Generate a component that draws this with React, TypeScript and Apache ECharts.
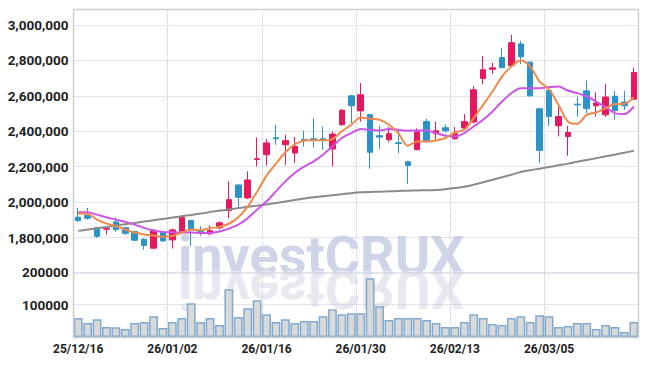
import React, { useEffect, useRef } from "react";
import * as echarts from "echarts";

const dates = [
  "25/12/16", "25/12/17", "25/12/18", "25/12/19", "25/12/22", "25/12/23", "25/12/24", "25/12/26", "25/12/29", "25/12/30",
  "26/01/02", "26/01/05", "26/01/06", "26/01/07", "26/01/08", "26/01/09", "26/01/12", "26/01/13", "26/01/14", "26/01/15",
  "26/01/16", "26/01/19", "26/01/20", "26/01/21", "26/01/22", "26/01/23", "26/01/26", "26/01/27", "26/01/28", "26/01/29",
  "26/01/30", "26/02/02", "26/02/03", "26/02/04", "26/02/05", "26/02/06", "26/02/09", "26/02/10", "26/02/11", "26/02/12",
  "26/02/13", "26/02/19", "26/02/20", "26/02/23", "26/02/24", "26/02/25", "26/02/26", "26/02/27", "26/03/03", "26/03/04",
  "26/03/05", "26/03/06", "26/03/09", "26/03/10", "26/03/11", "26/03/12", "26/03/13", "26/03/16", "26/03/17", "26/03/18",
];

const opens = [
  1915000, 1926000, 1855000, 1847000, 1888000, 1855000, 1834000, 1790000, 1740000, 1828000,
  1787000, 1836000, 1896000, 1834000, 1821000, 1855000, 1952000, 2097000, 2024000, 2241000,
  2268000, 2363000, 2324000, 2277000, 2354000, 2358000, 2358000, 2300000, 2437000, 2600000,
  2515000, 2493000, 2375000, 2352000, 2335000, 2228000, 2296000, 2455000, 2386000, 2420000,
  2358000, 2418000, 2452000, 2698000, 2750000, 2816000, 2771000, 2893000, 2790000, 2527000,
  2630000, 2431000, 2371000, 2553000, 2628000, 2544000, 2493000, 2598000, 2565000, 2581000,
];
const closes = [
  1896000, 1909000, 1807000, 1852000, 1845000, 1824000, 1785000, 1756000, 1841000, 1781000,
  1843000, 1913000, 1845000, 1824000, 1839000, 1883000, 2014000, 2027000, 2125000, 2245000,
  2334000, 2358000, 2347000, 2314000, 2350000, 2348000, 2347000, 2384000, 2519000, 2544000,
  2606000, 2281000, 2367000, 2386000, 2331000, 2207000, 2397000, 2343000, 2403000, 2403000,
  2386000, 2454000, 2634000, 2747000, 2758000, 2759000, 2900000, 2821000, 2600000, 2292000,
  2483000, 2483000, 2393000, 2549000, 2528000, 2559000, 2593000, 2517000, 2544000, 2731000,
];
const lows = [
  1889000, 1901000, 1798000, 1817000, 1832000, 1815000, 1779000, 1732000, 1736000, 1777000,
  1738000, 1832000, 1752000, 1811000, 1813000, 1845000, 1911000, 1962000, 2018000, 2202000,
  2206000, 2324000, 2211000, 2221000, 2314000, 2309000, 2296000, 2202000, 2431000, 2446000,
  2455000, 2189000, 2300000, 2339000, 2277000, 2103000, 2292000, 2337000, 2352000, 2392000,
  2352000, 2408000, 2446000, 2666000, 2724000, 2754000, 2765000, 2780000, 2596000, 2221000,
  2431000, 2371000, 2262000, 2483000, 2502000, 2483000, 2480000, 2466000, 2521000, 2578000,
];
const highs = [
  1967000, 1967000, 1860000, 1860000, 1914000, 1860000, 1839000, 1797000, 1849000, 1836000,
  1852000, 1918000, 1896000, 1864000, 1868000, 1892000, 2117000, 2100000, 2174000, 2365000,
  2356000, 2437000, 2380000, 2367000, 2403000, 2474000, 2427000, 2399000, 2525000, 2603000,
  2672000, 2499000, 2431000, 2424000, 2403000, 2234000, 2416000, 2469000, 2455000, 2437000,
  2424000, 2497000, 2656000, 2825000, 2788000, 2869000, 2944000, 2910000, 2793000, 2531000,
  2643000, 2540000, 2431000, 2596000, 2686000, 2619000, 2666000, 2628000, 2628000, 2759000,
];

const ma5 = [
  1935200, 1933500, 1901400, 1878800, 1864700, 1845000, 1828100, 1816900, 1811200, 1803900,
  1808400, 1827000, 1845000, 1841100, 1852900, 1860800, 1878000, 1915000, 1974600, 2059100,
  2149300, 2216900, 2281100, 2325600, 2346500, 2349300, 2349300, 2356000, 2400000, 2436600,
  2477700, 2470400, 2464800, 2436600, 2389800, 2318300, 2342500, 2342500, 2348100, 2361700,
  2393200, 2408400, 2474300, 2549300, 2624200, 2708700, 2765100, 2798900, 2765100, 2680600,
  2637700, 2549300, 2455200, 2442200, 2492900, 2505900, 2530700, 2553200, 2554900, 2592700,
];
const ma10 = [
  1942500, 1942500, 1929500, 1914300, 1901400, 1888400, 1873200, 1854600, 1839400, 1832100,
  1830000, 1828000, 1829000, 1826000, 1826000, 1833800, 1850700, 1873200, 1909800, 1957700,
  2004500, 2060800, 2117200, 2164500, 2200000, 2229800, 2267600, 2314300, 2361700, 2389800,
  2412400, 2406700, 2404500, 2412400, 2408400, 2402800, 2404500, 2404500, 2389800, 2374600,
  2370700, 2389800, 2427000, 2464800, 2511500, 2567900, 2615200, 2643400, 2643400, 2643400,
  2649000, 2652400, 2629800, 2615200, 2596000, 2567900, 2536300, 2502500, 2496900, 2539700,
];
const ma60 = [
  1837700, 1845000, 1852900, 1860200, 1867600, 1875500, 1882800, 1890100, 1898000, 1905300,
  1912600, 1920500, 1927900, 1935200, 1943600, 1952100, 1958800, 1966200, 1973500, 1980200,
  1987000, 1995500, 2003900, 2012400, 2020800, 2028100, 2033800, 2039400, 2045000, 2050700,
  2055200, 2057400, 2059100, 2060800, 2063100, 2064800, 2065900, 2067000, 2068700, 2073200,
  2080000, 2087300, 2098600, 2112600, 2126700, 2140800, 2154900, 2170100, 2180300, 2188700,
  2198300, 2207900, 2217400, 2228100, 2237700, 2247900, 2259100, 2267600, 2278800, 2290100,
];
const volumes = [
  58100, 42800, 55000, 30600, 30000, 24500, 42800, 45900, 64200, 27500,
  45900, 58100, 104000, 45900, 58100, 36700, 146800, 61200, 88700, 113100,
  70300, 45900, 55000, 42800, 48900, 48900, 64200, 85600, 70300, 73400,
  73400, 180400, 94800, 52000, 58100, 58100, 58100, 52000, 42800, 30600,
  30600, 45900, 70300, 58100, 39800, 36700, 58100, 64200, 45900, 67300,
  64200, 30600, 33600, 42800, 42800, 24500, 36700, 30600, 15300, 45900,
];

const UP = "#e8185f";
const DOWN = "#2b93c8";
const GRIDLINE = "#c6c9dc";
const LABEL_FONT = "Roboto, sans-serif";

export default function App() {
  const ref = useRef<HTMLDivElement>(null);

  useEffect(() => {
    document.body.style.margin = "0";
    const chart = echarts.init(ref.current!, null, { renderer: "svg" });
    const left = 73.5;
    const right = 8.5;

    const splitX = {
      show: true,
      interval: 9,
      lineStyle: { color: GRIDLINE, type: "dotted" as const, width: 1 },
    };

    chart.setOption({
      animation: false,
      backgroundColor: "#ffffff",
      graphic: [
        {
          type: "text",
          z: -10,
          x: 178,
          y: 271,
          silent: true,
          style: {
            text: "investCRUX",
            font: "bold 54px Roboto",
            fill: "#cfd5e9",
            verticalAlign: "bottom",
            y: 11,
          },
        },
        {
          type: "text",
          z: -10,
          x: 178,
          y: 273,
          scaleY: -1,
          silent: true,
          style: {
            text: "investCRUX",
            font: "bold 54px Roboto",
            fill: "#e8e8f0",
            verticalAlign: "bottom",
            y: 11,
          },
        },
        {
          type: "rect",
          z: 50,
          silent: true,
          shape: { x: 73.5, y: 9.5, width: 565, height: 328 },
          style: { fill: "none", stroke: "#d0d0d0", lineWidth: 1.5 },
        },
      ],
      grid: [
        { left, right, top: 9, height: 264, containLabel: false, outerBoundsMode: "none" },
        { left, right, top: 272, height: 65, containLabel: false, outerBoundsMode: "none" },
      ],
      xAxis: [
        {
          type: "category",
          gridIndex: 0,
          data: dates,
          boundaryGap: true,
          axisLine: { show: false },
          axisTick: { show: false },
          axisLabel: { show: false },
          splitLine: splitX,
        },
        {
          type: "category",
          gridIndex: 1,
          data: dates,
          boundaryGap: true,
          axisLine: { show: true, lineStyle: { color: "#cfcfcf", width: 1.5 } },
          axisTick: { show: false },
          axisLabel: {
            interval: 9,
            margin: 6,
            color: "#222",
            fontFamily: LABEL_FONT,
            fontWeight: "bold",
            fontSize: 12,
          },
          splitLine: splitX,
        },
      ],
      yAxis: [
        {
          type: "value",
          gridIndex: 0,
          min: 1600000,
          max: 3090000,
          interval: 200000,
          axisLine: { show: false },
          axisTick: { show: false },
          axisLabel: {
            showMinLabel: false,
            showMaxLabel: false,
            margin: 5,
            color: "#222",
            fontFamily: LABEL_FONT,
            fontWeight: "bold",
            fontSize: 13.5,
            formatter: (v: number) => v.toLocaleString("en-US"),
          },
          splitLine: { show: true, lineStyle: { color: GRIDLINE, type: "dotted", width: 1 } },
        },
        {
          type: "value",
          gridIndex: 1,
          min: 0,
          max: 200000,
          interval: 100000,
          axisLine: { show: false },
          axisTick: { show: false },
          axisLabel: {
            showMinLabel: false,
            margin: 5,
            color: "#222",
            fontFamily: LABEL_FONT,
            fontWeight: "bold",
            fontSize: 13.5,
            formatter: (v: number) => String(v),
          },
          splitLine: { show: true, lineStyle: { color: GRIDLINE, type: "dotted", width: 1 } },
        },
      ],
      series: [
        {
          type: "candlestick",
          xAxisIndex: 0,
          yAxisIndex: 0,
          barWidth: 6,
          data: dates.map((_, i) => [opens[i], closes[i], lows[i], highs[i]]),
          itemStyle: {
            color: UP,
            color0: DOWN,
            borderColor: UP,
            borderColor0: DOWN,
            borderWidth: 1,
          },
        },
        {
          type: "line",
          xAxisIndex: 0,
          yAxisIndex: 0,
          data: ma60,
          showSymbol: false,
          smooth: 0.3,
          lineStyle: { color: "#8a8a8a", width: 2 },
        },
        {
          type: "line",
          xAxisIndex: 0,
          yAxisIndex: 0,
          data: ma10,
          showSymbol: false,
          smooth: 0.3,
          lineStyle: { color: "#cc55e8", width: 2 },
        },
        {
          type: "line",
          xAxisIndex: 0,
          yAxisIndex: 0,
          data: ma5,
          showSymbol: false,
          smooth: 0.3,
          lineStyle: { color: "#f08a4b", width: 2 },
        },
        {
          type: "bar",
          xAxisIndex: 1,
          yAxisIndex: 1,
          data: volumes,
          barCategoryGap: "6%",
          itemStyle: { color: "#d9d9d9", borderColor: "#80aad0", borderWidth: 1.5 },
        },
      ],
    });

    return () => chart.dispose();
  }, []);

  return <div ref={ref} style={{ width: 647, height: 366 }} />;
}
